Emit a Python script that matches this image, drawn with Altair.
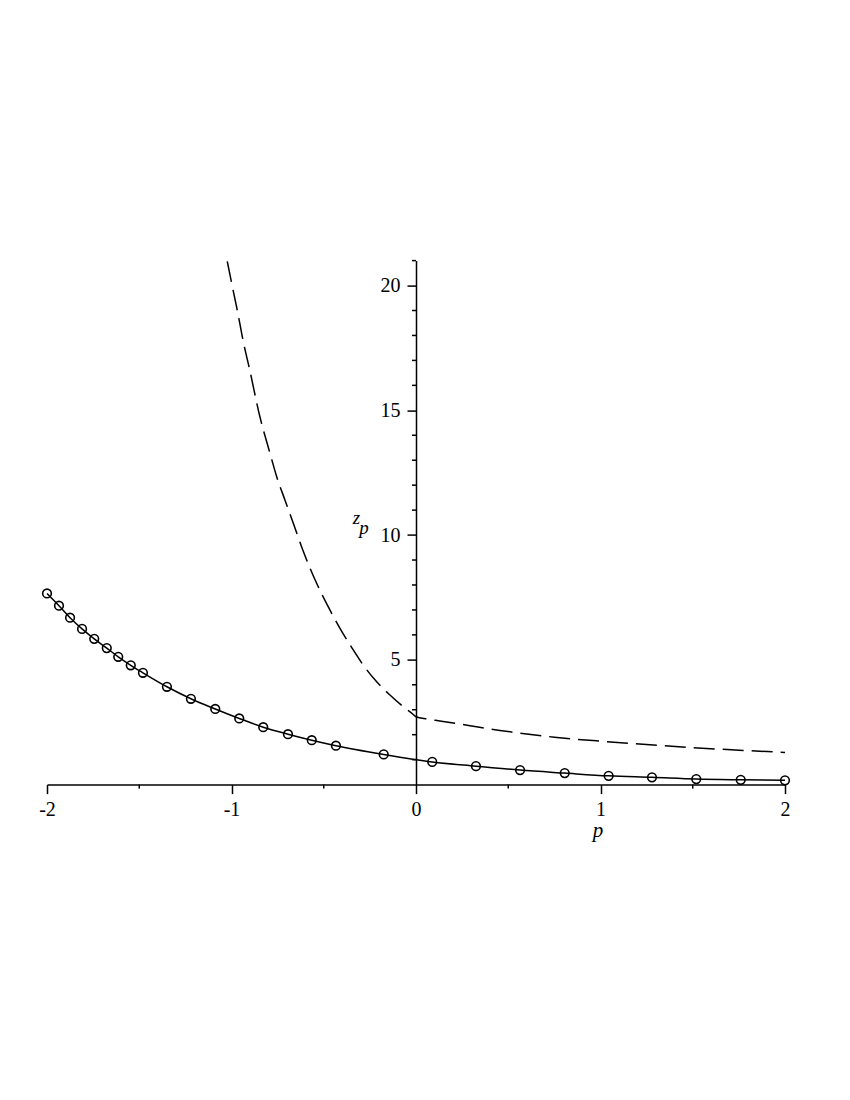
import altair as alt
import pandas as pd

# Solid curve with circle markers (p, z_p)
circle_p = [-2.0, -1.935, -1.875, -1.810, -1.744, -1.676, -1.614, -1.546, -1.480,
            -1.350, -1.220, -1.088, -0.958, -0.828, -0.694, -0.565, -0.434, -0.175,
            0.088, 0.325, 0.564, 0.806, 1.044, 1.279, 1.519, 1.760, 2.0]
circle_z = [7.66, 7.17, 6.69, 6.24, 5.84, 5.47, 5.12, 4.78, 4.48,
            3.92, 3.44, 3.03, 2.65, 2.30, 2.02, 1.78, 1.56, 1.21,
            0.91, 0.74, 0.58, 0.46, 0.35, 0.29, 0.22, 0.19, 0.17]

# Dashed curve (p, z_p)
dash_p = [-1.023, -0.999, -0.967, -0.936, -0.903, -0.846, -0.791, -0.755, -0.710,
          -0.665, -0.611, -0.538, -0.466, -0.412, -0.349, -0.286, -0.213, -0.141,
          -0.069, -0.018, 0.0, 0.06, 0.13, 0.293, 0.4, 0.546, 0.75, 1.0, 1.268,
          1.5, 1.75, 2.0]
dash_z = [20.97, 20.09, 18.95, 17.75, 16.68, 14.74, 13.27, 12.34, 11.40,
          10.47, 9.35, 8.06, 6.99, 6.26, 5.50, 4.79, 4.12, 3.59,
          3.12, 2.83, 2.72, 2.63, 2.55, 2.36, 2.23, 2.08, 1.90, 1.74, 1.60,
          1.48, 1.38, 1.29]

x_major = [-2, -1, 0, 1, 2]
x_minor = [-1.5, -0.5, 0.5, 1.5]
y_major = [5, 10, 15, 20]
y_minor = [1, 2, 3, 4, 6, 7, 8, 9, 11, 12, 13, 14, 16, 17, 18, 19, 21]

W, H = 738, 524
FONT = "Liberation Serif, Times New Roman, serif"

solid_df = pd.DataFrame({"p": circle_p, "z": circle_z})
dash_df = pd.DataFrame({"p": dash_p, "z": dash_z})
xminor_df = pd.DataFrame({"p": x_minor, "z": [0] * len(x_minor)})
yminor_df = pd.DataFrame({"p": [0] * len(y_minor), "z": y_minor})

xscale = alt.Scale(domain=[-2, 2], nice=False, zero=False)
yscale = alt.Scale(domain=[0, 21], nice=False, zero=False)

xaxis = alt.Axis(
    values=x_major, title=None, grid=False, format="d",
    labelExpr="replace(datum.label, '\u2212', '-')",
    tickSize=9,
    labelFont=FONT, labelFontSize=20, labelColor="black",
    domainColor="black", tickColor="black", domainWidth=1.5, tickWidth=1.5,
    labelPadding=6, labelFlush=False, labelOverlap=False,
)
yaxis = alt.Axis(
    values=y_major, title=None, grid=False, orient="left", offset=-W / 2,
    format="d", tickSize=9,
    labelFont=FONT, labelFontSize=20, labelColor="black",
    domainColor="black", tickColor="black", domainWidth=1.5, tickWidth=1.5,
    labelPadding=7, labelFlush=False, labelOverlap=False,
)

solid_line = alt.Chart(solid_df).mark_line(
    color="black", strokeWidth=1.5, interpolate="monotone"
).encode(x=alt.X("p:Q", scale=xscale, axis=xaxis),
         y=alt.Y("z:Q", scale=yscale, axis=yaxis))

circles = alt.Chart(solid_df).mark_point(
    shape="circle", filled=False, color="black", size=75, strokeWidth=1.6, opacity=1
).encode(x=alt.X("p:Q", scale=xscale), y=alt.Y("z:Q", scale=yscale))

dashed = alt.Chart(dash_df).mark_line(
    color="black", strokeWidth=1.5, strokeDash=[21, 8], interpolate="monotone"
).encode(x=alt.X("p:Q", scale=xscale), y=alt.Y("z:Q", scale=yscale))

# minor ticks
x_minor_ticks = alt.Chart(xminor_df).mark_tick(
    orient="vertical", size=4, thickness=1.5, color="black", yOffset=2, opacity=1
).encode(x=alt.X("p:Q", scale=xscale), y=alt.Y("z:Q", scale=yscale))
y_minor_ticks = alt.Chart(yminor_df).mark_tick(
    orient="horizontal", size=4, thickness=1.5, color="black", xOffset=-2, opacity=1
).encode(x=alt.X("p:Q", scale=xscale), y=alt.Y("z:Q", scale=yscale))

lab_df = pd.DataFrame({"k": [0]})
z_lab = alt.Chart(lab_df).mark_text(
    text="z", font=FONT, fontSize=19, fontStyle="italic", color="black",
    align="center", baseline="alphabetic"
).encode(x=alt.value(309.5), y=alt.value(263))
p_sub = alt.Chart(lab_df).mark_text(
    text="p", font=FONT, fontSize=19, fontStyle="italic", color="black",
    align="center", baseline="alphabetic"
).encode(x=alt.value(317), y=alt.value(273))
p_lab = alt.Chart(lab_df).mark_text(
    text="p", font=FONT, fontSize=21, fontStyle="italic", color="black",
    align="center", baseline="alphabetic"
).encode(x=alt.value(551), y=alt.value(576))

chart = alt.layer(solid_line, dashed, circles, x_minor_ticks, y_minor_ticks,
                  z_lab, p_sub, p_lab).properties(
    width=W, height=H,
    autosize=alt.AutoSizeParams(type="none"),
    padding={"left": 39, "top": 252.6, "right": 40, "bottom": 100},
).configure(background="white").configure_view(stroke=None)

chart.save("out.html", embed_options={"renderer": "svg", "actions": False})
